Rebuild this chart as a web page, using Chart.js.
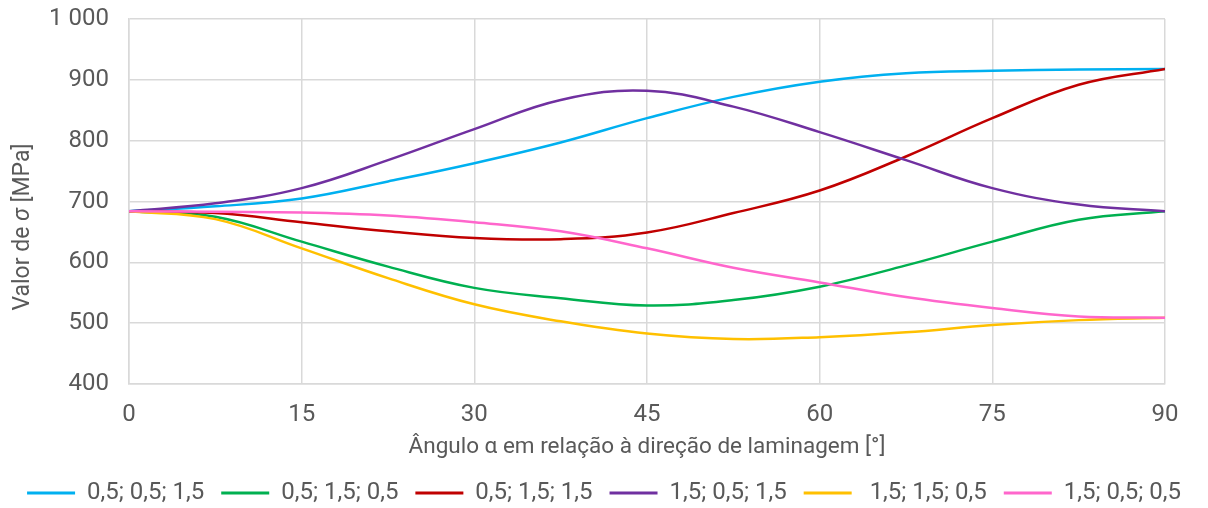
<!DOCTYPE html>
<html lang="pt">
<head>
<meta charset="utf-8">
<script src="https://cdn.jsdelivr.net/npm/chart.js@4/dist/chart.umd.min.js"></script>
<style>
  html, body { margin: 0; padding: 0; background: #fff; }
  #wrap { width: 1208px; height: 508px; position: relative; }
</style>
</head>
<body>
<div id="wrap"><canvas id="sigma-chart"></canvas></div>
<script>
// Ângulo em relação à direção de laminagem (graus)
const angles = [0, 7.5, 15, 22.5, 30, 37.5, 45, 52.5, 60, 67.5, 75, 82.5, 90];

// Legenda de cada curva (coeficientes)
const seriesLabels = ['0,5; 0,5; 1,5', '0,5; 1,5; 0,5', '0,5; 1,5; 1,5', '1,5; 0,5; 1,5', ' 1,5; 1,5; 0,5', '1,5; 0,5; 0,5'];

// Valor de sigma [MPa] para cada curva
const sigmaA = [684, 692, 705, 733, 763, 797, 837, 872, 897, 911, 915, 917, 918];
const sigmaB = [684, 675, 634, 593, 558, 541, 529, 538, 560, 595, 634, 670, 684];
const sigmaC = [684, 681, 666, 651, 640, 638, 649, 681, 718, 774, 837, 892, 918];
const sigmaD = [684, 697, 722, 768, 819, 867, 882, 856, 814, 768, 722, 695, 684];
const sigmaE = [684, 671, 623, 574, 531, 503, 483, 474, 477, 485, 497, 505, 509];
const sigmaF = [684, 683, 682, 677, 666, 651, 623, 591, 567, 543, 525, 511, 509];

const seriesValues = [sigmaA, sigmaB, sigmaC, sigmaD, sigmaE, sigmaF];
const seriesColors = ['#00B0F0', '#00B050', '#C00000', '#7030A0', '#FFC000', '#FF66CC'];

const textColor = '#595959';
const gridColor = '#D9D9D9';
const fontFamily = "Roboto, 'Liberation Sans', sans-serif";
const baseFont = { family: fontFamily, size: 24 };
const titleFont = { family: fontFamily, size: 22.5 };

const datasets = seriesValues.map((vals, i) => ({
  label: seriesLabels[i],
  data: angles.map((a, k) => ({ x: a, y: vals[k] })),
  borderColor: seriesColors[i],
  backgroundColor: seriesColors[i],
  borderWidth: 2.5,
  pointRadius: 0,
  fill: false,
  tension: 0.4,
  // a última série fica por cima
  order: seriesValues.length - i
}));

// título do eixo vertical, com o sigma em itálico
const yTitlePlugin = {
  id: 'yTitle',
  afterDraw(chart) {
    const ctx = chart.ctx;
    const parts = [
      { text: 'Valor de ', style: '' },
      { text: 'σ', style: 'italic ' },
      { text: ' [MPa]', style: '' }
    ];
    const size = 23;
    let total = 0;
    parts.forEach(p => {
      ctx.font = `${p.style}${size}px ${fontFamily}`;
      p.w = ctx.measureText(p.text).width;
      total += p.w;
    });
    ctx.save();
    ctx.translate(23, 227);
    ctx.rotate(-Math.PI / 2);
    ctx.fillStyle = textColor;
    ctx.textBaseline = 'middle';
    ctx.textAlign = 'left';
    let x = -total / 2;
    parts.forEach(p => {
      ctx.font = `${p.style}${size}px ${fontFamily}`;
      ctx.fillText(p.text, x, 0);
      x += p.w;
    });
    ctx.restore();
  }
};

new Chart(document.getElementById('sigma-chart'), {
  type: 'line',
  data: { datasets: datasets },
  plugins: [yTitlePlugin],
  options: {
    responsive: true,
    maintainAspectRatio: false,
    animation: false,
    layout: {
      padding: { top: 19, right: 0, left: 0, bottom: -7 }
    },
    plugins: {
      legend: {
        position: 'bottom',
        labels: {
          color: textColor,
          font: baseFont,
          boxWidth: 48,
          boxHeight: 3,
          padding: 17,
          sort: (a, b) => a.datasetIndex - b.datasetIndex,
          // amostra da legenda como traço fino, sem contorno
          generateLabels: (chart) => Chart.defaults.plugins.legend.labels.generateLabels(chart)
            .map(item => Object.assign(item, { lineWidth: 0 }))
        }
      },
      tooltip: { enabled: false }
    },
    scales: {
      x: {
        type: 'linear',
        min: 0,
        max: 90,
        ticks: {
          stepSize: 15,
          color: textColor,
          font: baseFont,
          padding: 17
        },
        grid: { color: gridColor, lineWidth: 1.5, drawTicks: false },
        border: { color: gridColor, width: 1.5 },
        title: {
          display: true,
          text: 'Ângulo α em relação à direção de laminagem [°]',
          color: textColor,
          font: titleFont,
          padding: { top: 0, bottom: 3 }
        },
        afterFit: (scale) => { scale.height = 80; }
      },
      y: {
        min: 400,
        max: 1000,
        ticks: {
          stepSize: 100,
          color: textColor,
          font: baseFont,
          padding: 20,
          callback: (v) => v >= 1000 ? String(v).replace(/\B(?=(\d{3})+(?!\d))/g, ' ') : v
        },
        grid: { color: gridColor, lineWidth: 1.5, drawTicks: false },
        border: { color: gridColor, width: 1.5 },
        title: { display: false },
        afterFit: (scale) => {
          scale.width = 129;
          scale.paddingTop = 0;
          scale.paddingBottom = 0;
        }
      },
      // margem à direita da área do gráfico (o eixo não é desenhado)
      yRight: {
        position: 'right',
        grid: { display: false },
        border: { display: false },
        ticks: { display: false },
        afterFit: (scale) => {
          scale.width = 43;
          scale.paddingTop = 0;
          scale.paddingBottom = 0;
        }
      }
    }
  }
});
</script>
</body>
</html>
